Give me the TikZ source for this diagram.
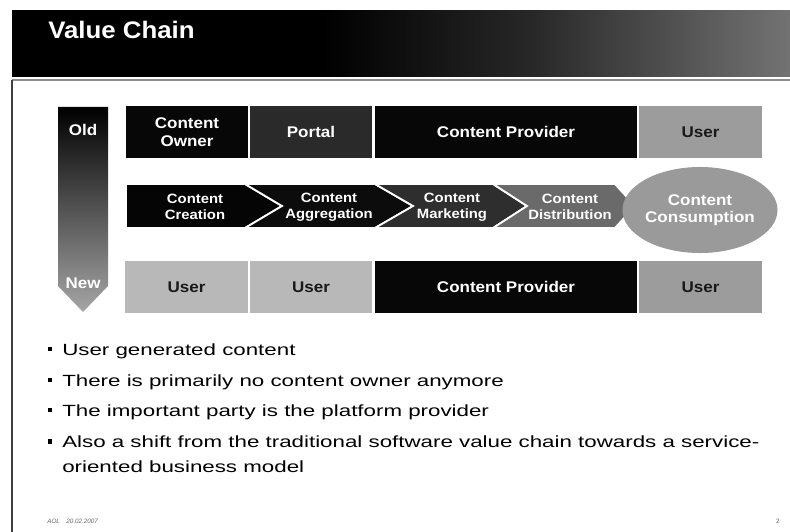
\documentclass[tikz,border=0pt]{standalone}
\usepackage{fontspec}
\setmainfont{Liberation Sans}
\newfontfamily\titlefont[FakeStretch=1.08]{Liberation Sans}
\newfontfamily\boxfont[FakeStretch=1.1]{Liberation Sans}
\newfontfamily\bodyfont[FakeStretch=1.38]{Liberation Sans}
\usepackage{tikz}
\usetikzlibrary{shapes.geometric}

\definecolor{boxblack}{HTML}{070707}
\definecolor{portalgrey}{HTML}{2A2A2A}
\definecolor{usergrey}{HTML}{9C9C9C}
\definecolor{lightgrey}{HTML}{B8B8B8}
\definecolor{chevA}{HTML}{050505}
\definecolor{chevB}{HTML}{0C0C0C}
\definecolor{chevC}{HTML}{2E2E2E}
\definecolor{chevD}{HTML}{6A6A6A}
\definecolor{ovalgrey}{HTML}{9A9A9A}

\pgfdeclarehorizontalshading{titlebar}{100bp}{color(0bp)=(black); color(25bp)=(black); color(45bp)=(black); color(58bp)=(black!85); color(75bp)=(black!55); color(100bp)=(black!55)}

\newcommand{\sqbullet}{\raisebox{0.22em}{\rule{0.3em}{0.3em}}}

\begin{document}
\begin{tikzpicture}[x=0.025cm, y=-0.025cm,
  box/.style={inner sep=0pt, minimum height=1.3cm, align=center,
    font=\boxfont\bfseries\fontsize{11}{12.8}\selectfont},
  narrow/.style={minimum width=3.05cm},
  broad/.style={minimum width=6.55cm},
  dark/.style={box, fill=boxblack, text=white},
  light/.style={box, fill=lightgrey, text=black!90},
  user/.style={box, fill=usergrey, text=black!90},
  chevtext/.style={align=center, text=white, inner sep=0pt,
    font=\boxfont\bfseries\fontsize{9.6}{11.4}\selectfont},
  item/.style={anchor=base west, align=left, inner sep=0pt,
    font=\bodyfont\fontsize{11.5}{17.6}\selectfont}]

\useasboundingbox (0,0) rectangle (790,532);

\shade[shading=titlebar] (12,11) rectangle (790,77);
\node[anchor=base west, inner sep=0pt, text=white, font=\titlefont\bfseries\fontsize{17}{20}\selectfont] (title) at (48,39) {Value Chain};
\draw[black!45, line width=1.2pt] (12,80) -- (790,80);
\draw[black!75, line width=0.8pt] (12,80) -- (12,532);

\shade[top color=black, middle color=black!80, bottom color=black!35] (58,107) -- (108,107) -- (108,286) -- (83,312) -- (58,286) -- cycle;
\node[box, text=white] (old) at (83,130) {Old};
\node[box, text=white] (new) at (83,283) {New};

\node[dark, narrow] (owner) at (187,132) {Content\\Owner};
\node[box, narrow, fill=portalgrey, text=white] (portal) at (311,132) {Portal};
\node[dark, broad] (provider1) at (506,132) {Content Provider};
\node[user, narrow] (user1) at (700.5,132) {User};

\foreach \a/\n/\b/\t/\col in {126/126/245/282/chevA, 245/282/375/413/chevB, 375/413/493/527/chevC, 493/527/615/635/chevD}
  \fill[\col, draw=white, line width=1.3pt] (\a,184) -- (\b,184) -- (\t,206) -- (\b,228) -- (\a,228) -- (\n,206) -- cycle;
\node[chevtext] (creation) at (195,207) {Content\\Creation};
\node[chevtext] (aggregation) at (329,207) {Content\\Aggregation};
\node[chevtext] (marketing) at (452,207) {Content\\Marketing};
\node[chevtext] (distribution) at (570,207) {Content\\Distribution};
\node[ellipse, fill=ovalgrey, text=white, inner sep=0pt, minimum width=3.1cm, minimum height=2.15cm, align=center,
  font=\boxfont\bfseries\fontsize{11}{12.2}\selectfont] (consumption) at (700,210) {Content\\Consumption};

\node[light, narrow] (user2) at (186.5,287) {User};
\node[light, narrow] (user3) at (311,287) {User};
\node[dark, broad] (provider2) at (506,287) {Content Provider};
\node[user, narrow] (user4) at (700.5,287) {User};

\node[item] (point1) at (62,355) {\llap{\sqbullet\hspace{7pt}}User generated content};
\node[item] (point2) at (62,386) {\llap{\sqbullet\hspace{7pt}}There is primarily no content owner anymore};
\node[item] (point3) at (62,416) {\llap{\sqbullet\hspace{7pt}}The important party is the platform provider};
\node[item] (point4) at (62,472) {\llap{\sqbullet\hspace{7pt}}Also a shift from the traditional software value chain towards a service-\\oriented business model};

\node[anchor=base west, inner sep=0pt, text=black!60, font=\itshape\fontsize{4.5}{5}\selectfont] (footer) at (47,523) {AOL\quad 20.02.2007};
\node[anchor=base east, inner sep=0pt, text=black!60, font=\fontsize{4.5}{5}\selectfont] (page) at (780,523) {2};

\end{tikzpicture}
\end{document}
